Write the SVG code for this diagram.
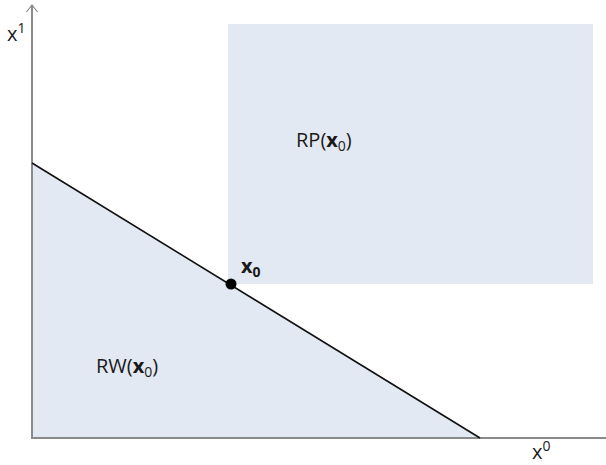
<svg xmlns="http://www.w3.org/2000/svg" width="606" height="465" viewBox="0 0 606 465">
<style>
.t{font-family:"Open Sans","Liberation Sans",sans-serif;font-size:20px;fill:#1a1a1a}
.b{font-weight:bold}
.s{font-size:14px}
.axis{stroke:#8a8a8a;stroke-width:2;fill:none}
.reg{fill:#e3e9f3}
</style>
<defs>
<marker id="arr" markerWidth="14" markerHeight="14" refX="12" refY="7" orient="auto" markerUnits="userSpaceOnUse" viewBox="0 0 14 14">
<path d="M5,1.5 L12,7 L5,12.5" fill="none" stroke="#8a8a8a" stroke-width="1.2"/>
</marker>
</defs>
<g id="RP">
<rect class="reg" x="228" y="24" width="365" height="260"/>
<text class="t" x="296" y="147">RP(<tspan class="b">x</tspan><tspan class="s" dy="4">0</tspan><tspan dy="-4">)</tspan></text>
</g>
<g id="RW">
<polygon class="reg" points="33,163 480,438 33,438"/>
<text class="t" x="96" y="373">RW(<tspan class="b">x</tspan><tspan class="s" dy="4">0</tspan><tspan dy="-4">)</tspan></text>
</g>
<g id="connectors">
<line class="axis" x1="32" y1="438" x2="32" y2="5" marker-end="url(#arr)"/>
<line class="axis" x1="31" y1="438" x2="606" y2="438"/>
<line x1="32" y1="163" x2="480" y2="438" stroke="#111" stroke-width="1.6"/>
</g>
<g id="x0">
<circle cx="231" cy="284" r="5.5" fill="#000"/>
<text class="t b" x="241" y="273">x<tspan class="s" dy="4">0</tspan></text>
</g>
<g id="labels">
<text class="t" x="7" y="41">x<tspan class="s" dy="-8">1</tspan></text>
<text class="t" x="532" y="459">x<tspan class="s" dy="-8">0</tspan></text>
</g>
</svg>
